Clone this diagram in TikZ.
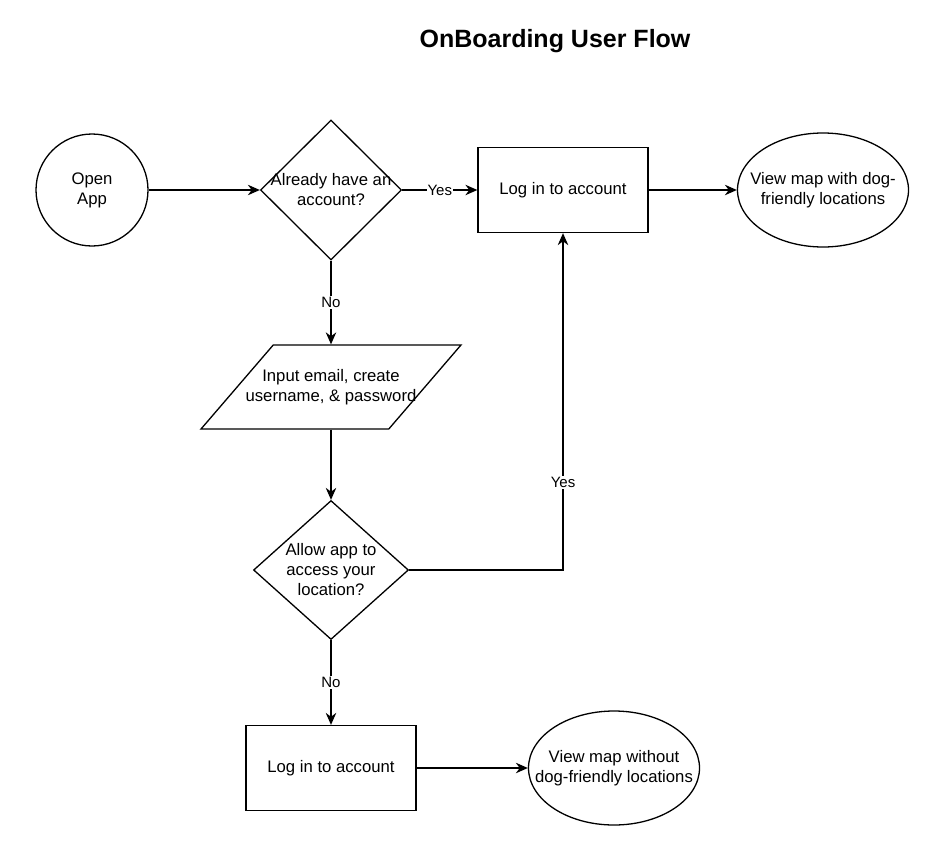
\documentclass[tikz,border=0pt]{standalone}
\usepackage{fontspec}
\setmainfont{Liberation Sans}
\usetikzlibrary{shapes.geometric,arrows.meta}

\begin{document}
\begin{tikzpicture}[x=1pt, y=-1pt, line width=1.3pt,
  font=\fontsize{16.7}{20}\selectfont,
  >={Stealth[length=12pt,width=10.5pt]}]
\tikzset{
  startnode/.style={circle, draw, minimum size=112pt, align=center},
  decision/.style={diamond, draw, minimum width=141pt, minimum height=140pt, inner sep=0pt},
  process/.style={rectangle, draw, minimum width=170pt, minimum height=85pt},
  io/.style={trapezium, trapezium left angle=58, trapezium right angle=122,
    trapezium stretches=true, draw, minimum width=260pt, minimum height=84pt, inner sep=2pt},
  endnode/.style={ellipse, draw, minimum width=171pt, minimum height=114pt, inner sep=0pt},
  yesno/.style={fill=white, inner sep=1pt, font=\fontsize{15}{17}\selectfont}
}
\useasboundingbox (0,0) rectangle (944,846);
\node[font=\bfseries\fontsize{25}{30}\selectfont, anchor=base] (title) at (555,47) {OnBoarding User Flow};
\node[startnode] (open) at (92,190) {Open\\App};
\node[decision, label={[align=center]center:Already have an\\account?}] (q1) at (331,190) {};
\node[process] (login1) at (563,190) {Log in to account};
\node[endnode, label={[align=center]center:View map with dog-\\friendly locations}] (mapyes) at (823,190) {};
\node[io, label={[align=center]center:Input email, create\\username, \& password}] (input) at (331,387) {};
\node[decision, minimum width=155pt, minimum height=139pt,
  label={[align=center]center:Allow app to\\access your\\location?}] (q2) at (331,570) {};
\node[process] (login2) at (331,768) {Log in to account};
\node[endnode, label={[align=center]center:View map without\\dog-friendly locations}] (mapno) at (614,768) {};
\draw[->] (open) -- (q1);
\draw[->] (q1) -- node[yesno] {Yes} (login1);
\draw[->] (login1) -- (mapyes);
\draw[->] (q1) -- node[yesno] {No} (input);
\draw[->] (input) -- (q2);
\draw[->] (q2.east) -| node[yesno, pos=0.63] {Yes} (login1.south);
\draw[->] (q2) -- node[yesno] {No} (login2);
\draw[->] (login2) -- (mapno);
\end{tikzpicture}
\end{document}
